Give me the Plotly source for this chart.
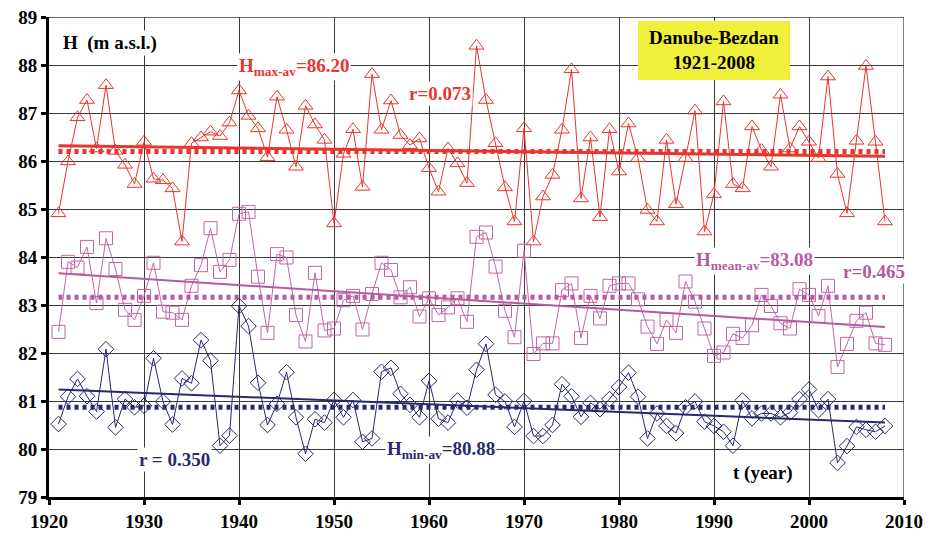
import plotly.graph_objects as go

# ---------------- data ----------------
years = list(range(1921, 2009))

h_max = [84.91, 85.99, 86.91, 87.27, 86.26, 87.58, 86.21, 85.92, 85.52, 86.40,
         85.63, 85.60, 85.43, 84.32, 86.37, 86.49, 86.61, 86.52, 86.80, 87.47,
         86.94, 86.68, 86.08, 87.34, 86.65, 85.88, 87.15, 86.76, 86.44, 84.70,
         86.15, 86.66, 85.46, 87.81, 86.65, 87.26, 86.54, 86.33, 86.47, 85.85,
         85.36, 86.26, 85.95, 85.54, 88.40, 87.27, 86.37, 85.45, 84.74, 86.68,
         84.32, 85.26, 85.71, 86.65, 87.91, 85.22, 86.49, 84.83, 86.66, 85.78,
         86.78, 86.06, 84.98, 84.74, 86.44, 85.10, 86.06, 87.05, 84.53, 85.31,
         87.24, 85.52, 85.43, 86.72, 86.23, 85.88, 87.38, 86.26, 86.72, 86.40,
         86.06, 87.76, 85.73, 84.91, 86.42, 87.98, 86.40, 84.74]

h_mean = [82.44, 83.90, 83.78, 84.21, 83.04, 84.39, 83.75, 82.90, 82.69, 83.19,
          83.88, 82.86, 82.84, 82.69, 83.40, 83.83, 84.60, 83.69, 83.94, 84.90,
          84.94, 83.59, 82.42, 84.06, 83.99, 82.79, 82.24, 83.67, 82.47, 82.51,
          83.10, 83.19, 82.49, 83.23, 83.88, 83.73, 83.16, 83.37, 82.76, 83.14,
          82.79, 82.95, 83.14, 82.65, 84.42, 84.51, 83.80, 82.88, 82.33, 84.13,
          81.98, 82.20, 82.20, 83.31, 83.45, 82.31, 83.19, 82.72, 83.40, 83.45,
          83.45, 83.12, 82.55, 82.19, 82.69, 82.42, 83.49, 83.07, 82.51, 81.94,
          82.01, 82.40, 82.31, 82.58, 83.21, 82.98, 82.62, 82.51, 83.33, 83.21,
          82.77, 83.40, 81.71, 82.19, 82.67, 82.84, 82.20, 82.17]

h_min = [80.52, 81.09, 81.46, 81.10, 80.78, 82.08, 80.45, 81.04, 80.87, 80.90,
         81.89, 80.99, 80.51, 81.47, 81.37, 82.27, 81.84, 80.07, 80.28, 82.98,
         82.56, 81.38, 80.50, 80.94, 81.60, 80.66, 79.90, 80.62, 80.55, 81.02,
         80.66, 81.02, 80.15, 80.22, 81.61, 81.69, 81.15, 80.92, 80.66, 81.42,
         80.63, 80.55, 81.01, 80.86, 81.65, 82.19, 81.13, 80.99, 80.46, 81.00,
         80.27, 80.27, 80.50, 81.35, 81.10, 80.67, 80.96, 80.83, 81.04, 81.29,
         81.59, 81.09, 80.22, 80.74, 80.48, 80.33, 80.87, 80.99, 80.57, 80.48,
         80.36, 80.07, 81.01, 80.64, 80.74, 80.74, 80.66, 80.76, 81.04, 81.24,
         80.81, 81.04, 79.71, 80.06, 80.46, 80.40, 80.36, 80.48]

trend_years = [1921, 2008]
max_trend = [86.32, 86.10]
mean_trend = [83.66, 82.54]
min_trend = [81.24, 80.55]

avg_years = [1921, 2008]
max_avg = 86.20
mean_avg = 83.16
min_avg = 80.87

x_ticks = list(range(1920, 2011, 10))
y_ticks = list(range(79, 90))

# ---------------- style ----------------
RED = '#e8352e'
PURPLE = '#c066a8'
PURPLE_LINE = '#b85aa0'
NAVY = '#28286e'
FONT = 'Liberation Serif'
GRID = '#3a3a3a'


def X(px):
    return 1920 + (px - 49) / 9.5


def Y(py):
    return 89 - (py - 17) / 48


fig = go.Figure()

series = [
    (h_max, max_trend, max_avg, RED, RED, 'triangle-up-open', 13, 3),
    (h_mean, mean_trend, mean_avg, PURPLE, PURPLE_LINE, 'square-open', 13, 2),
    (h_min, min_trend, min_avg, NAVY, NAVY, 'diamond-open', 12, 2),
]

for vals, trend, avg, col, lcol, sym, msize, tw in series:
    fig.add_trace(go.Scatter(
        x=years, y=vals, mode='lines+markers',
        line=dict(color=col, width=1),
        marker=dict(symbol=sym, size=msize, color=col, line=dict(width=1, color=col)),
        showlegend=False, hoverinfo='skip'))
    fig.add_trace(go.Scatter(
        x=trend_years, y=trend, mode='lines',
        line=dict(color=lcol, width=tw),
        showlegend=False, hoverinfo='skip'))
    fig.add_trace(go.Scatter(
        x=avg_years, y=[avg, avg], mode='lines',
        line=dict(color=lcol, width=5, dash='4px,4px'),
        showlegend=False, hoverinfo='skip'))

shapes = [
    dict(type='line', xref='x', yref='y', x0=1920, x1=2010, y0=89, y1=89,
         line=dict(color=GRID, width=1.3), layer='below'),
    dict(type='line', xref='x', yref='y', x0=2010, x1=2010, y0=79, y1=89,
         line=dict(color=GRID, width=1.3), layer='below'),
    dict(type='rect', xref='x', yref='y', x0=X(638), x1=X(790), y0=Y(80), y1=Y(21),
         fillcolor='#f0f03a', line=dict(width=0), layer='above'),
]


def ann(text, x, y, color, bg='white', xanchor='left', size=19):
    return dict(text=text, x=x, y=y, xref='x', yref='y', xanchor=xanchor,
                yanchor='middle', showarrow=False, bgcolor=bg, borderpad=1,
                font=dict(family=FONT, size=size, color=color))


annotations = [
    ann('<b>H  (m a.s.l.)</b>', X(61), Y(43), 'black'),
    ann('<b>H<sub>max-av</sub>=86.20</b>', X(237), Y(67), RED),
    ann('<b>r=0.073</b>', X(407), Y(93), RED),
    ann('<b>H<sub>mean-av</sub>=83.08</b>', X(694), Y(261), PURPLE_LINE),
    ann('<b>r=0.465</b>', X(841), Y(271), PURPLE_LINE),
    ann('<b>r = 0.350</b>', X(137), Y(459), NAVY),
    ann('<b>H<sub>min-av</sub>=80.88</b>', X(385), Y(450), NAVY),
    ann('<b>t (year)</b>', X(731), Y(473), 'black', bg='rgba(0,0,0,0)'),
    dict(text='<b>Danube-Bezdan<br>1921-2008</b>', x=X(714), y=Y(50), xref='x', yref='y',
         xanchor='center', yanchor='middle', showarrow=False,
         font=dict(family=FONT, size=19, color='black')),
]

axis_common = dict(
    showgrid=True, gridcolor=GRID, gridwidth=1.3,
    showline=True, linecolor='black', linewidth=3,
    ticks='outside', ticklen=5, tickwidth=3, tickcolor='black',
    tickfont=dict(family=FONT, size=19, color='black', weight='bold'),
    ticklabeloverflow='allow',
    zeroline=False, fixedrange=True, automargin=False,
)

# page body has an 8px default margin; plot area sits at window x 49..904, y 17..497
fig.update_layout(
    width=927, height=528,
    margin=dict(l=41, r=31, t=9, b=39),
    paper_bgcolor='white', plot_bgcolor='white',
    shapes=shapes, annotations=annotations,
    xaxis=dict(range=[1920, 2010], tickvals=x_ticks, ticktext=[str(v) for v in x_ticks],
               **axis_common),
    yaxis=dict(range=[79, 89], tickvals=y_ticks, ticktext=[str(v) for v in y_ticks],
               **axis_common),
)

fig.write_html('out.html')
